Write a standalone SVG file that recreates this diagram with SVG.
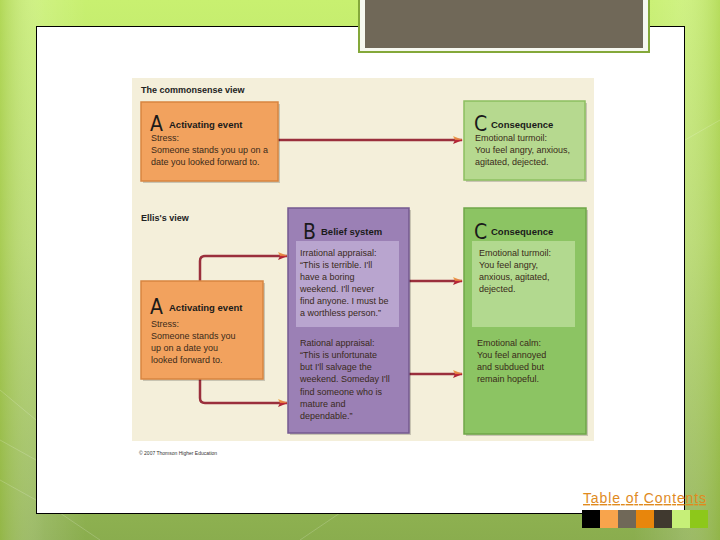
<svg xmlns="http://www.w3.org/2000/svg" width="720" height="540" viewBox="0 0 720 540">
<defs>
<linearGradient id="bg" x1="0" y1="0" x2="0" y2="1">
<stop offset="0" stop-color="#c8f070"/>
<stop offset="0.45" stop-color="#b4d868"/>
<stop offset="1" stop-color="#8aad4e"/>
</linearGradient>
<linearGradient id="bands" x1="0" y1="0" x2="1" y2="0">
<stop offset="0" stop-color="#9cc040" stop-opacity="0.5"/>
<stop offset="0.06" stop-color="#ffffff" stop-opacity="0.12"/>
<stop offset="0.12" stop-color="#ffffff" stop-opacity="0"/>
<stop offset="0.88" stop-color="#ffffff" stop-opacity="0"/>
<stop offset="0.94" stop-color="#ffffff" stop-opacity="0.12"/>
<stop offset="1" stop-color="#9cc040" stop-opacity="0.4"/>
</linearGradient>
<linearGradient id="ah" x1="0" y1="0" x2="0" y2="1">
<stop offset="0" stop-color="#f0b050"/>
<stop offset="0.5" stop-color="#e07040"/>
<stop offset="0.5" stop-color="#c02838"/>
<stop offset="1" stop-color="#a02030"/>
</linearGradient>
<marker id="arr" viewBox="0 0 10 8" refX="9" refY="4" markerWidth="10" markerHeight="8" markerUnits="userSpaceOnUse" orient="auto">
<path d="M0,0 L10,4 L0,8 L2,4 Z" fill="url(#ah)"/>
</marker>
<style>
.t{font-family:"Liberation Sans","DejaVu Sans",sans-serif;font-size:9px;fill:#3a2a1a}
.h{font-family:"Liberation Sans","DejaVu Sans",sans-serif;font-size:9.5px;font-weight:bold;fill:#1a1a1a}
.big{font-family:"DejaVu Sans Condensed","Liberation Sans",sans-serif;font-size:21px;font-weight:300;fill:#1a1a1a}
.lead{font-family:"Liberation Sans","DejaVu Sans",sans-serif;font-size:9px;font-weight:bold;fill:#222}
.orange{fill:#f2a25e;stroke:#d78540;stroke-width:1.5}
.green1{fill:#b6d98f;stroke:#8cbf60;stroke-width:1.5}
.green2{fill:#8cc463;stroke:#6fa648;stroke-width:1.5}
.purple{fill:#9b80b5;stroke:#745a90;stroke-width:1.5}
.shadow{fill:#000;opacity:0.18}
.conn{fill:none;stroke:#9a2f3c;stroke-width:2.5;marker-end:url(#arr)}
</style>
</defs>
<rect x="0" y="0" width="720" height="540" fill="url(#bg)"/>
<rect x="0" y="0" width="720" height="540" fill="url(#bands)"/>
<g stroke="#ffffff" stroke-opacity="0.18" fill="none" stroke-width="1">
<path d="M0,390 L36,420 M0,440 L36,460 M0,480 L36,500 M60,513 L100,540 M300,540 L340,513 M685,140 L720,120"/>
</g>
<rect x="36.5" y="26.5" width="648" height="487" fill="#ffffff" stroke="#000" stroke-width="1"/>
<g id="titlebox">
<rect x="359" y="-2" width="290" height="54" fill="#f6f8f0" stroke="#84a83a" stroke-width="2"/>
<rect x="365" y="0" width="278" height="48" fill="#706858"/>
</g>
<rect x="132" y="78" width="462" height="363" fill="#f4efda"/>
<text class="lead" x="141" y="93">The commonsense view</text>
<text class="lead" x="141" y="221">Ellis's view</text>
<g id="connectors">
<line class="conn" x1="278" y1="140" x2="462" y2="140"/>
<path class="conn" d="M200,281 V261 Q200,256 205,256 H287"/>
<path class="conn" d="M200,379 V398 Q200,403 205,403 H287"/>
<line class="conn" x1="409" y1="281" x2="462" y2="281"/>
<line class="conn" x1="409" y1="374" x2="462" y2="374"/>
</g>
<g id="A1">
<rect class="shadow" x="143" y="104" width="137" height="79"/>
<rect class="orange" x="141" y="102" width="137" height="79"/>
<text class="big" x="150" y="131">A</text>
<text class="h" x="169" y="128">Activating event</text>
<text class="t" x="151" y="141">Stress:</text>
<text class="t" x="151" y="153">Someone stands you up on a</text>
<text class="t" x="151" y="165">date you looked forward to.</text>
</g>
<g id="C1">
<rect class="shadow" x="466" y="103" width="121" height="79"/>
<rect class="green1" x="464" y="101" width="121" height="79"/>
<text class="big" x="474" y="131">C</text>
<text class="h" x="491" y="128">Consequence</text>
<text class="t" x="475" y="141">Emotional turmoil:</text>
<text class="t" x="475" y="153">You feel angry, anxious,</text>
<text class="t" x="475" y="165">agitated, dejected.</text>
</g>
<g id="A2">
<rect class="shadow" x="143" y="283" width="122" height="98"/>
<rect class="orange" x="141" y="281" width="122" height="98"/>
<text class="big" x="150" y="314">A</text>
<text class="h" x="169" y="311">Activating event</text>
<text class="t" x="151" y="327">Stress:</text>
<text class="t" x="151" y="339">Someone stands you</text>
<text class="t" x="151" y="351">up on a date you</text>
<text class="t" x="151" y="363">looked forward to.</text>
</g>
<g id="B">
<rect class="shadow" x="290" y="210" width="121" height="225"/>
<rect class="purple" x="288" y="208" width="121" height="225"/>
<rect x="296" y="241" width="103" height="86" fill="#b9a5cf"/>
<text class="big" x="303" y="239">B</text>
<text class="h" x="321" y="235">Belief system</text>
<text class="t" x="300" y="256">Irrational appraisal:</text>
<text class="t" x="300" y="268">“This is terrible. I'll</text>
<text class="t" x="300" y="280">have a boring</text>
<text class="t" x="300" y="292">weekend. I'll never</text>
<text class="t" x="300" y="304">find anyone. I must be</text>
<text class="t" x="300" y="316">a worthless person.”</text>
<text class="t" x="300" y="346">Rational appraisal:</text>
<text class="t" x="300" y="358">“This is unfortunate</text>
<text class="t" x="300" y="370">but I'll salvage the</text>
<text class="t" x="300" y="382">weekend. Someday I'll</text>
<text class="t" x="300" y="395">find someone who is</text>
<text class="t" x="300" y="407">mature and</text>
<text class="t" x="300" y="419">dependable.”</text>
</g>
<g id="C2">
<rect class="shadow" x="466" y="210" width="122" height="226"/>
<rect class="green2" x="464" y="208" width="122" height="226"/>
<rect x="472" y="241" width="103" height="86" fill="#b2d98f"/>
<text class="big" x="474" y="239">C</text>
<text class="h" x="491" y="235">Consequence</text>
<text class="t" x="479" y="256">Emotional turmoil:</text>
<text class="t" x="479" y="268">You feel angry,</text>
<text class="t" x="479" y="280">anxious, agitated,</text>
<text class="t" x="479" y="292">dejected.</text>
<text class="t" x="477" y="346">Emotional calm:</text>
<text class="t" x="477" y="358">You feel annoyed</text>
<text class="t" x="477" y="370">and subdued but</text>
<text class="t" x="477" y="382">remain hopeful.</text>
</g>
<text x="139" y="455" font-family="Liberation Sans, sans-serif" font-size="5px" fill="#333">© 2007 Thomson Higher Education</text>
<text x="583" y="503" font-family="Liberation Sans, sans-serif" font-size="14px" fill="#e08a1e" text-decoration="underline" textLength="123" lengthAdjust="spacing">Table of Contents</text>
<g id="swatches">
<rect x="582" y="510" width="18" height="18" fill="#000000"/>
<rect x="600" y="510" width="18" height="18" fill="#f8a44c"/>
<rect x="618" y="510" width="18" height="18" fill="#706858"/>
<rect x="636" y="510" width="18" height="18" fill="#e8860c"/>
<rect x="654" y="510" width="18" height="18" fill="#40392f"/>
<rect x="672" y="510" width="18" height="18" fill="#c6ef78"/>
<rect x="690" y="510" width="18" height="18" fill="#8dc81a"/>
</g>
</svg>
